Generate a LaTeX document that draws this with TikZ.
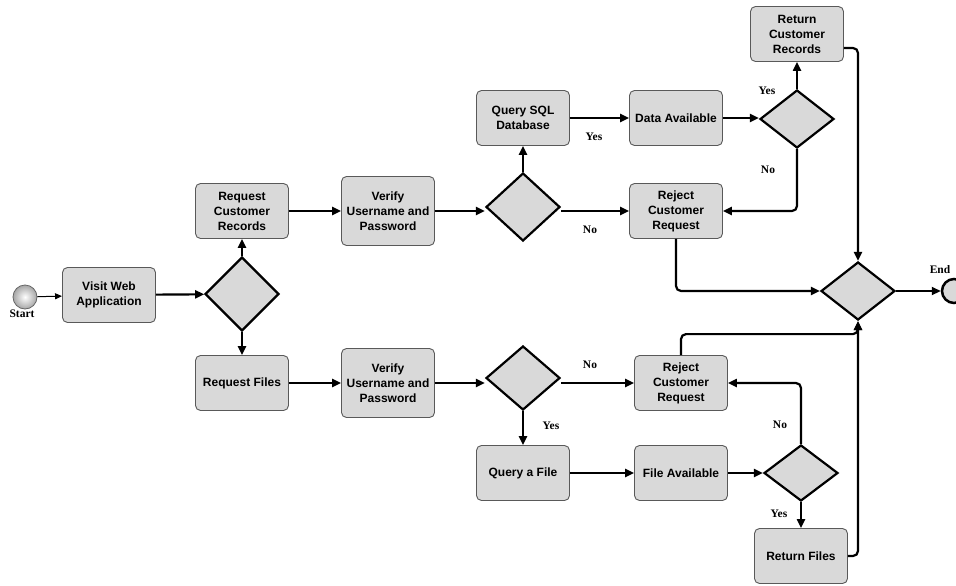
\documentclass[tikz,border=0pt]{standalone}
\usepackage{fontspec}
\setmainfont{Liberation Sans}
\newfontfamily\tagfont{Liberation Serif}
\usetikzlibrary{shapes.geometric,arrows.meta,calc}

\begin{document}
\begin{tikzpicture}[x=1pt,y=-1pt,
  task/.style={draw=black!65, line width=0.9pt, fill=black!15, rounded corners=5pt,
    minimum width=93pt, minimum height=55pt, align=center, inner sep=2pt,
    font=\bfseries\fontsize{12}{15}\selectfont},
  tall/.style={minimum height=69pt},
  gate/.style={diamond, draw, line width=2.2pt, fill=black!15, inner sep=0pt,
    minimum width=74pt, minimum height=74pt},
  flow/.style={line width=2.2pt, rounded corners=5pt, -{Triangle[length=9pt,width=8pt]}},
  thinflow/.style={line width=1pt, -{Triangle[length=7pt,width=6pt]}},
  tag/.style={font=\tagfont\bfseries\fontsize{11.5}{13}\selectfont, inner sep=1pt}
]
\useasboundingbox (0,0) rectangle (956,586);
\clip (0,0) rectangle (956,586);

% start and end events
\node[circle, draw=black!60, line width=0.8pt, inner color=white, outer color=black!35,
      minimum size=24pt, inner sep=0pt] (start) at (25,297) {};
\node[tag] (startlbl) at (22,314) {Start};
\node[circle, draw, line width=2.5pt, fill=black!15, minimum size=24pt, inner sep=0pt] (stop) at (954,291) {};
\node[tag] (stoplbl) at (940,270) {End};

% tasks and gateways
\node[task] (visit) at (109,295) {Visit Web\\Application};
\node[gate] (d1) at (242,294) {};
\node[task] (reqrec) at (242,211) {Request\\Customer\\Records};
\node[task] (reqfil) at (242,383) {Request Files};
\node[task, tall] (ver1) at (388,211) {Verify\\Username and\\Password};
\node[task, tall] (ver2) at (388,383) {Verify\\Username and\\Password};
\node[gate, minimum height=68pt] (d2) at (523,207) {};
\node[gate, minimum height=64pt] (d3) at (523,378) {};
\node[task] (qsql) at (523,118) {Query SQL\\Database};
\node[task] (data) at (676,118) {Data Available};
\node[gate, minimum height=58pt] (d4) at (797,119) {};
\node[task] (retrec) at (797,34) {Return\\Customer\\Records};
\node[task] (rej1) at (676,211) {Reject\\Customer\\Request};
\node[gate, minimum height=58pt] (dend) at (858,291) {};
\node[task] (rej2) at (681,383) {Reject\\Customer\\Request};
\node[task] (qfile) at (523,473) {Query a File};
\node[task] (fileav) at (681,473) {File Available};
\node[gate, minimum height=56pt] (d5) at (801,473) {};
\node[task] (retfil) at (801,556) {Return Files};

% flows
\draw[thinflow] (start) -- (visit);
\draw[flow] (visit) -- (d1);
\draw[flow] (d1.north) -- (reqrec.south);
\draw[flow] (d1.south) -- (reqfil.north);
\draw[flow] (reqrec.east) -- (ver1.west);
\draw[flow] (reqfil.east) -- (ver2.west);
\draw[flow] (ver1.east) -- (ver1.east -| d2.west);
\draw[flow] (ver2.east) -- (ver2.east -| d3.west);
\draw[flow] (d2.north) -- (qsql.south);
\draw[flow] (rej1.west -| d2.east) -- (rej1.west);
\draw[flow] (qsql.east) -- (data.west);
\draw[flow] (data.east) -- (data.east -| d4.west);
\draw[flow] (d4.north) -- (retrec.south);
\draw[flow] (d4.south) |- (rej1.east);
\draw[flow] ($(retrec.east)+(0,14)$) -| (dend.north);
\draw[flow] (rej1.south) |- (dend.west);
\draw[flow] (dend.east) -- (stop.west);
\draw[flow] (rej2.west -| d3.east) -- (rej2.west);
\draw[flow] (d3.south) -- (qfile.north);
\draw[flow] (qfile.east) -- (fileav.west);
\draw[flow] (fileav.east) -- (d5.west);
\draw[flow] (d5.north) |- (rej2.east);
\draw[flow] (d5.south) -- (retfil.north);
\draw[flow] (rej2.north) |- ($(dend.south)+(0,13)$) -- (dend.south);
\draw[flow] (retfil.east) -| (dend.south);

% branch labels
\node[tag] (n1) at (590,230) {No};
\node[tag] (y1) at (594,137) {Yes};
\node[tag] (y2) at (767,91) {Yes};
\node[tag] (n2) at (768,170) {No};
\node[tag] (n3) at (590,365) {No};
\node[tag] (y3) at (551,426) {Yes};
\node[tag] (n4) at (780,425) {No};
\node[tag] (y4) at (779,514) {Yes};
\end{tikzpicture}
\end{document}
